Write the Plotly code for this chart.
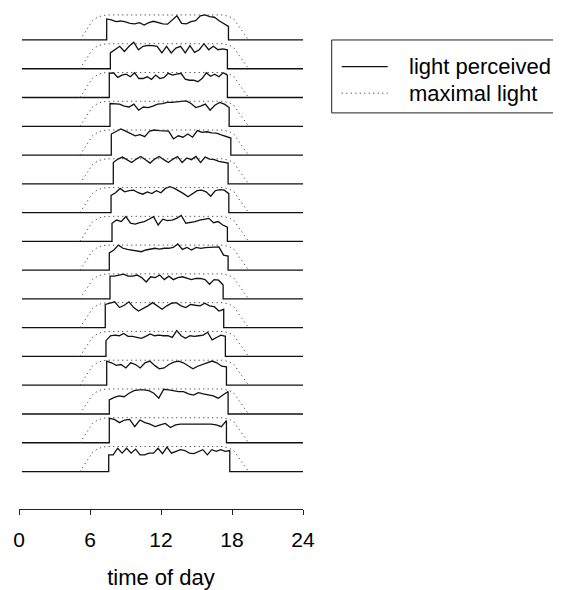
import plotly.graph_objects as go
import numpy as np

# ---- data (hours of day; light levels as fraction of row spacing) ----
ON_HOURS = [7.41, 7.72, 7.63, 7.69, 7.80, 7.97, 7.78, 7.86, 7.63, 7.69, 7.29, 7.35, 7.41, 7.63, 7.63, 7.58]
OFF_HOURS = [17.70, 17.61, 17.61, 17.76, 17.90, 17.67, 17.73, 17.61, 17.67, 17.25, 17.30, 17.44, 17.53, 17.67, 17.53, 17.81]

PERCEIVED = [
    [.73, .70, .64, .66, .63, .58, .56, .60, .52, .60, .65, .60, .56, .55, .70, .84, .58, .56, .64, .67, .84, .87, .81, .79, .67, .58, .47],
    [.55, .66, .78, .60, .78, .92, .66, .78, .81, .80, .78, .55, .78, .55, .72, .78, .55, .80, .57, .66, .87, .66, .78, .66, .69, .66],
    [.84, .86, .70, .78, .81, .72, .86, .66, .66, .72, .63, .78, .66, .70, .84, .78, .81, .84, .64, .60, .60, .55, .66, .86, .74, .81, .72, .86, .78],
    [.79, .77, .77, .70, .67, .77, .56, .67, .65, .70, .77, .79, .83, .83, .85, .85, .88, .79, .65, .70, .77, .56, .73, .83, .77, .65],
    [.73, .83, .91, .83, .76, .67, .71, .64, .83, .87, .85, .85, .83, .56, .67, .62, .73, .62, .85, .79, .81, .77, .76, .70, .65, .59],
    [.74, .86, .93, .84, .74, .86, .95, .84, .72, .86, .95, .84, .74, .86, .95, .74, .90, .84, .95, .74, .93, .86, .84, .78, .74, .72],
    [.60, .69, .84, .72, .76, .78, .69, .64, .72, .66, .76, .69, .84, .90, .84, .76, .66, .55, .64, .76, .78, .72, .57, .76, .80, .78, .66],
    [.63, .74, .69, .86, .63, .60, .65, .69, .77, .86, .57, .77, .72, .74, .80, .90, .63, .65, .69, .74, .77, .80, .65, .69, .57, .49],
    [.60, .70, .87, .76, .72, .70, .67, .64, .70, .72, .76, .73, .76, .76, .79, .91, .72, .79, .70, .79, .76, .78, .79, .79, .81, .52, .49],
    [.79, .79, .83, .86, .79, .79, .83, .74, .59, .77, .74, .83, .67, .79, .67, .74, .77, .71, .67, .71, .71, .67, .51, .67, .65, .48],
    [.81, .85, .90, .70, .78, .90, .70, .58, .66, .76, .87, .76, .64, .76, .85, .87, .76, .70, .81, .78, .76, .85, .76, .73, .58, .64],
    [.55, .72, .74, .72, .80, .70, .70, .66, .63, .70, .78, .72, .74, .72, .72, .66, .90, .72, .63, .72, .70, .72, .74, .84, .58, .66, .74, .70],
    [.84, .78, .69, .72, .60, .78, .72, .60, .78, .84, .69, .57, .60, .72, .80, .84, .78, .66, .57, .66, .72, .80, .84, .78, .66, .64],
    [.49, .58, .63, .60, .72, .81, .84, .84, .81, .72, .55, .86, .84, .81, .78, .78, .70, .66, .74, .70, .66, .63, .55, .66, .78],
    [.85, .81, .70, .79, .81, .56, .79, .70, .65, .56, .62, .67, .53, .62, .65, .65, .67, .67, .67, .67, .65, .62, .56, .77],
    [.58, .58, .81, .64, .81, .64, .78, .58, .58, .64, .64, .81, .62, .85, .64, .70, .76, .73, .64, .62, .70, .76, .58, .76, .70, .76, .70, .73],
]

MAX_T = [5.15, 5.51, 5.71, 5.93, 6.21, 6.64, 7.06, 7.49, 17.23, 17.80, 18.22, 18.50, 18.78, 19.07, 19.40]
MAX_V = [0.0, 0.23, 0.37, 0.52, 0.67, 0.79, 0.85, 0.87, 0.87, 0.81, 0.70, 0.52, 0.35, 0.17, 0.0]

X_TICKS = [0, 6, 12, 18, 24]
X_TITLE = "time of day"
LEGEND_LABELS = ["light perceived", "maximal light"]
DAY_START, DAY_END = 0.25, 24.0

# ---- geometry (page body adds an 8px margin; overflow is hidden) ----
W, H = 553, 582
L, T = 11.3, 2
PW, PH = 284, 499.5
R = W - L - PW
B = H - T - PH
ROW_PX = 28.8
BASE0_PX = 32  # figure pixel of the first baseline

def px_to_paper(px, py):
    return (px - L) / PW, 1 - (py - T) / PH

SOLID = dict(color="#111111", width=1.3)
DOTTED = dict(color="#444444", width=1, dash="1.2px,3.3px")

fig = go.Figure()
n_rows = len(PERCEIVED)
for i in range(n_rows):
    base = -i
    vals = PERCEIVED[i]
    ts = np.linspace(ON_HOURS[i], OFF_HOURS[i], len(vals))
    x = [DAY_START, ON_HOURS[i]] + list(ts) + [OFF_HOURS[i], DAY_END]
    y = [base, base] + [base + v for v in vals] + [base, base]
    fig.add_trace(go.Scatter(
        x=x, y=y, mode="lines", line=SOLID,
        name=LEGEND_LABELS[0], showlegend=False, hoverinfo="skip"))
for i in range(n_rows):
    base = -i
    fig.add_trace(go.Scatter(
        x=MAX_T, y=[base + v for v in MAX_V], mode="lines", line=DOTTED,
        name=LEGEND_LABELS[1], showlegend=False, hoverinfo="skip"))

y_top = (BASE0_PX - T) / ROW_PX
y_bot = -(T + PH - BASE0_PX) / ROW_PX

# ---- legend box drawn in paper coordinates ----
shapes, annotations = [], []
x0, y0 = px_to_paper(324, 32)
x1, y1 = px_to_paper(575, 105)
shapes.append(dict(type="rect", xref="paper", yref="paper", x0=x0, y0=y1, x1=x1, y1=y0,
                   line=dict(color="#222222", width=1), fillcolor="white"))
for k, (lab, sty) in enumerate(zip(LEGEND_LABELS, [SOLID, DOTTED])):
    yy = 58.7 + k * 26.6
    lx0, ly = px_to_paper(334, yy)
    lx1, _ = px_to_paper(380, yy)
    shapes.append(dict(type="line", xref="paper", yref="paper", x0=lx0, x1=lx1, y0=ly, y1=ly,
                       line=sty))
    tx, _ = px_to_paper(399, yy)
    annotations.append(dict(text=lab, xref="paper", yref="paper", x=tx, y=ly,
                            xanchor="left", yanchor="middle", showarrow=False,
                            font=dict(size=22, color="black")))

fig.update_layout(
    width=W, height=H,
    margin=dict(l=L, r=R, t=T, b=B, autoexpand=False),
    paper_bgcolor="white", plot_bgcolor="white",
    font=dict(family="Liberation Sans, Arial, sans-serif", color="black"),
    showlegend=False,
    shapes=shapes, annotations=annotations,
    xaxis=dict(range=[0, 24], tickvals=X_TICKS, ticktext=[str(v) for v in X_TICKS],
               showline=True, linecolor="#222222", linewidth=1,
               ticks="outside", ticklen=5, tickcolor="#222222",
               showgrid=False, zeroline=False, tickfont=dict(size=21),
               ticklabelstandoff=7,
               title=dict(text=X_TITLE, font=dict(size=22), standoff=20)),
    yaxis=dict(range=[y_bot, y_top], visible=False, showgrid=False, zeroline=False),
)

fig.write_html("out.html")
